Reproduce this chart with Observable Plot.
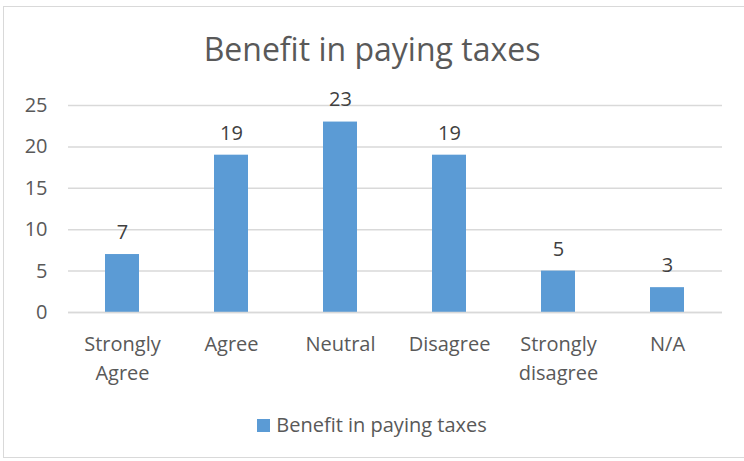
<!DOCTYPE html>
<html>
<head>
<meta charset="utf-8">
<script src="https://cdn.jsdelivr.net/npm/d3@7"></script>
<script src="https://cdn.jsdelivr.net/npm/@observablehq/plot@0.6"></script>
<style>
  html, body { margin: 0; padding: 0; background: #fff; }
  body { width: 744px; height: 461px; overflow: hidden; font-family: "Open Sans", sans-serif; }
  #frame { position: absolute; left: 3px; top: 6px; width: 745px; height: 452px; border: 1.5px solid #d9d9d9; box-sizing: border-box; }
  #wrap { position: absolute; left: 0; top: 0; width: 744px; height: 461px; }
  #title { height: 80px; box-sizing: border-box; padding-top: 29px; text-align: center; font-size: 32px; color: #595959; line-height: 40px; }
  #legend { position: absolute; top: 411px; left: 0; width: 744px; text-align: center; font-size: 20px; color: #595959; }
  #legend .sw { display: inline-block; width: 13px; height: 13px; background: #5b9bd5; vertical-align: 0px; margin-right: 6px; }
</style>
</head>
<body>
<div id="frame"></div>
<div id="wrap">
  <div id="title">Benefit in paying taxes</div>
  <div id="chart"></div>
  <div id="legend"><span class="sw"></span>Benefit in paying taxes</div>
</div>
<script>
const categories = ["Strongly\nAgree", "Agree", "Neutral", "Disagree", "Strongly\ndisagree", "N/A"];
const values = [7, 19, 23, 19, 5, 3];
const yTicks = [0, 5, 10, 15, 20, 25];

const data = categories.map((c, i) => ({category: c, value: values[i]}));

const chart = Plot.plot({
  width: 744,
  height: 320,
  marginTop: 25,
  marginBottom: 88,
  marginLeft: 68,
  marginRight: 22,
  style: {fontFamily: "'Open Sans', sans-serif", fontSize: "20px", color: "#595959", background: "transparent"},
  x: {domain: categories, paddingInner: 0.688, paddingOuter: 0.344, label: null},
  y: {domain: [0, 25], label: null},
  marks: [
    Plot.gridY(yTicks, {stroke: "#d9d9d9", strokeOpacity: 1, strokeWidth: 1.5}),
    Plot.axisY({ticks: yTicks, tickSize: 0, tickPadding: 21, fontSize: 20, fill: "#595959", label: null}),
    Plot.axisX({tickSize: 0, tickPadding: 18, fontSize: 20, fill: "#595959", lineHeight: 1.45, label: null, textAnchor: "middle"}),
    Plot.barY(data, {x: "category", y: "value", fill: "#5b9bd5"}),
    Plot.ruleY([0], {stroke: "#d9d9d9", strokeWidth: 1.5}),
    Plot.text(data, {x: "category", y: "value", text: d => String(d.value), dy: -22, fontSize: 20, fill: "#404040"})
  ]
});
document.getElementById("chart").appendChild(chart);
</script>
</body>
</html>
